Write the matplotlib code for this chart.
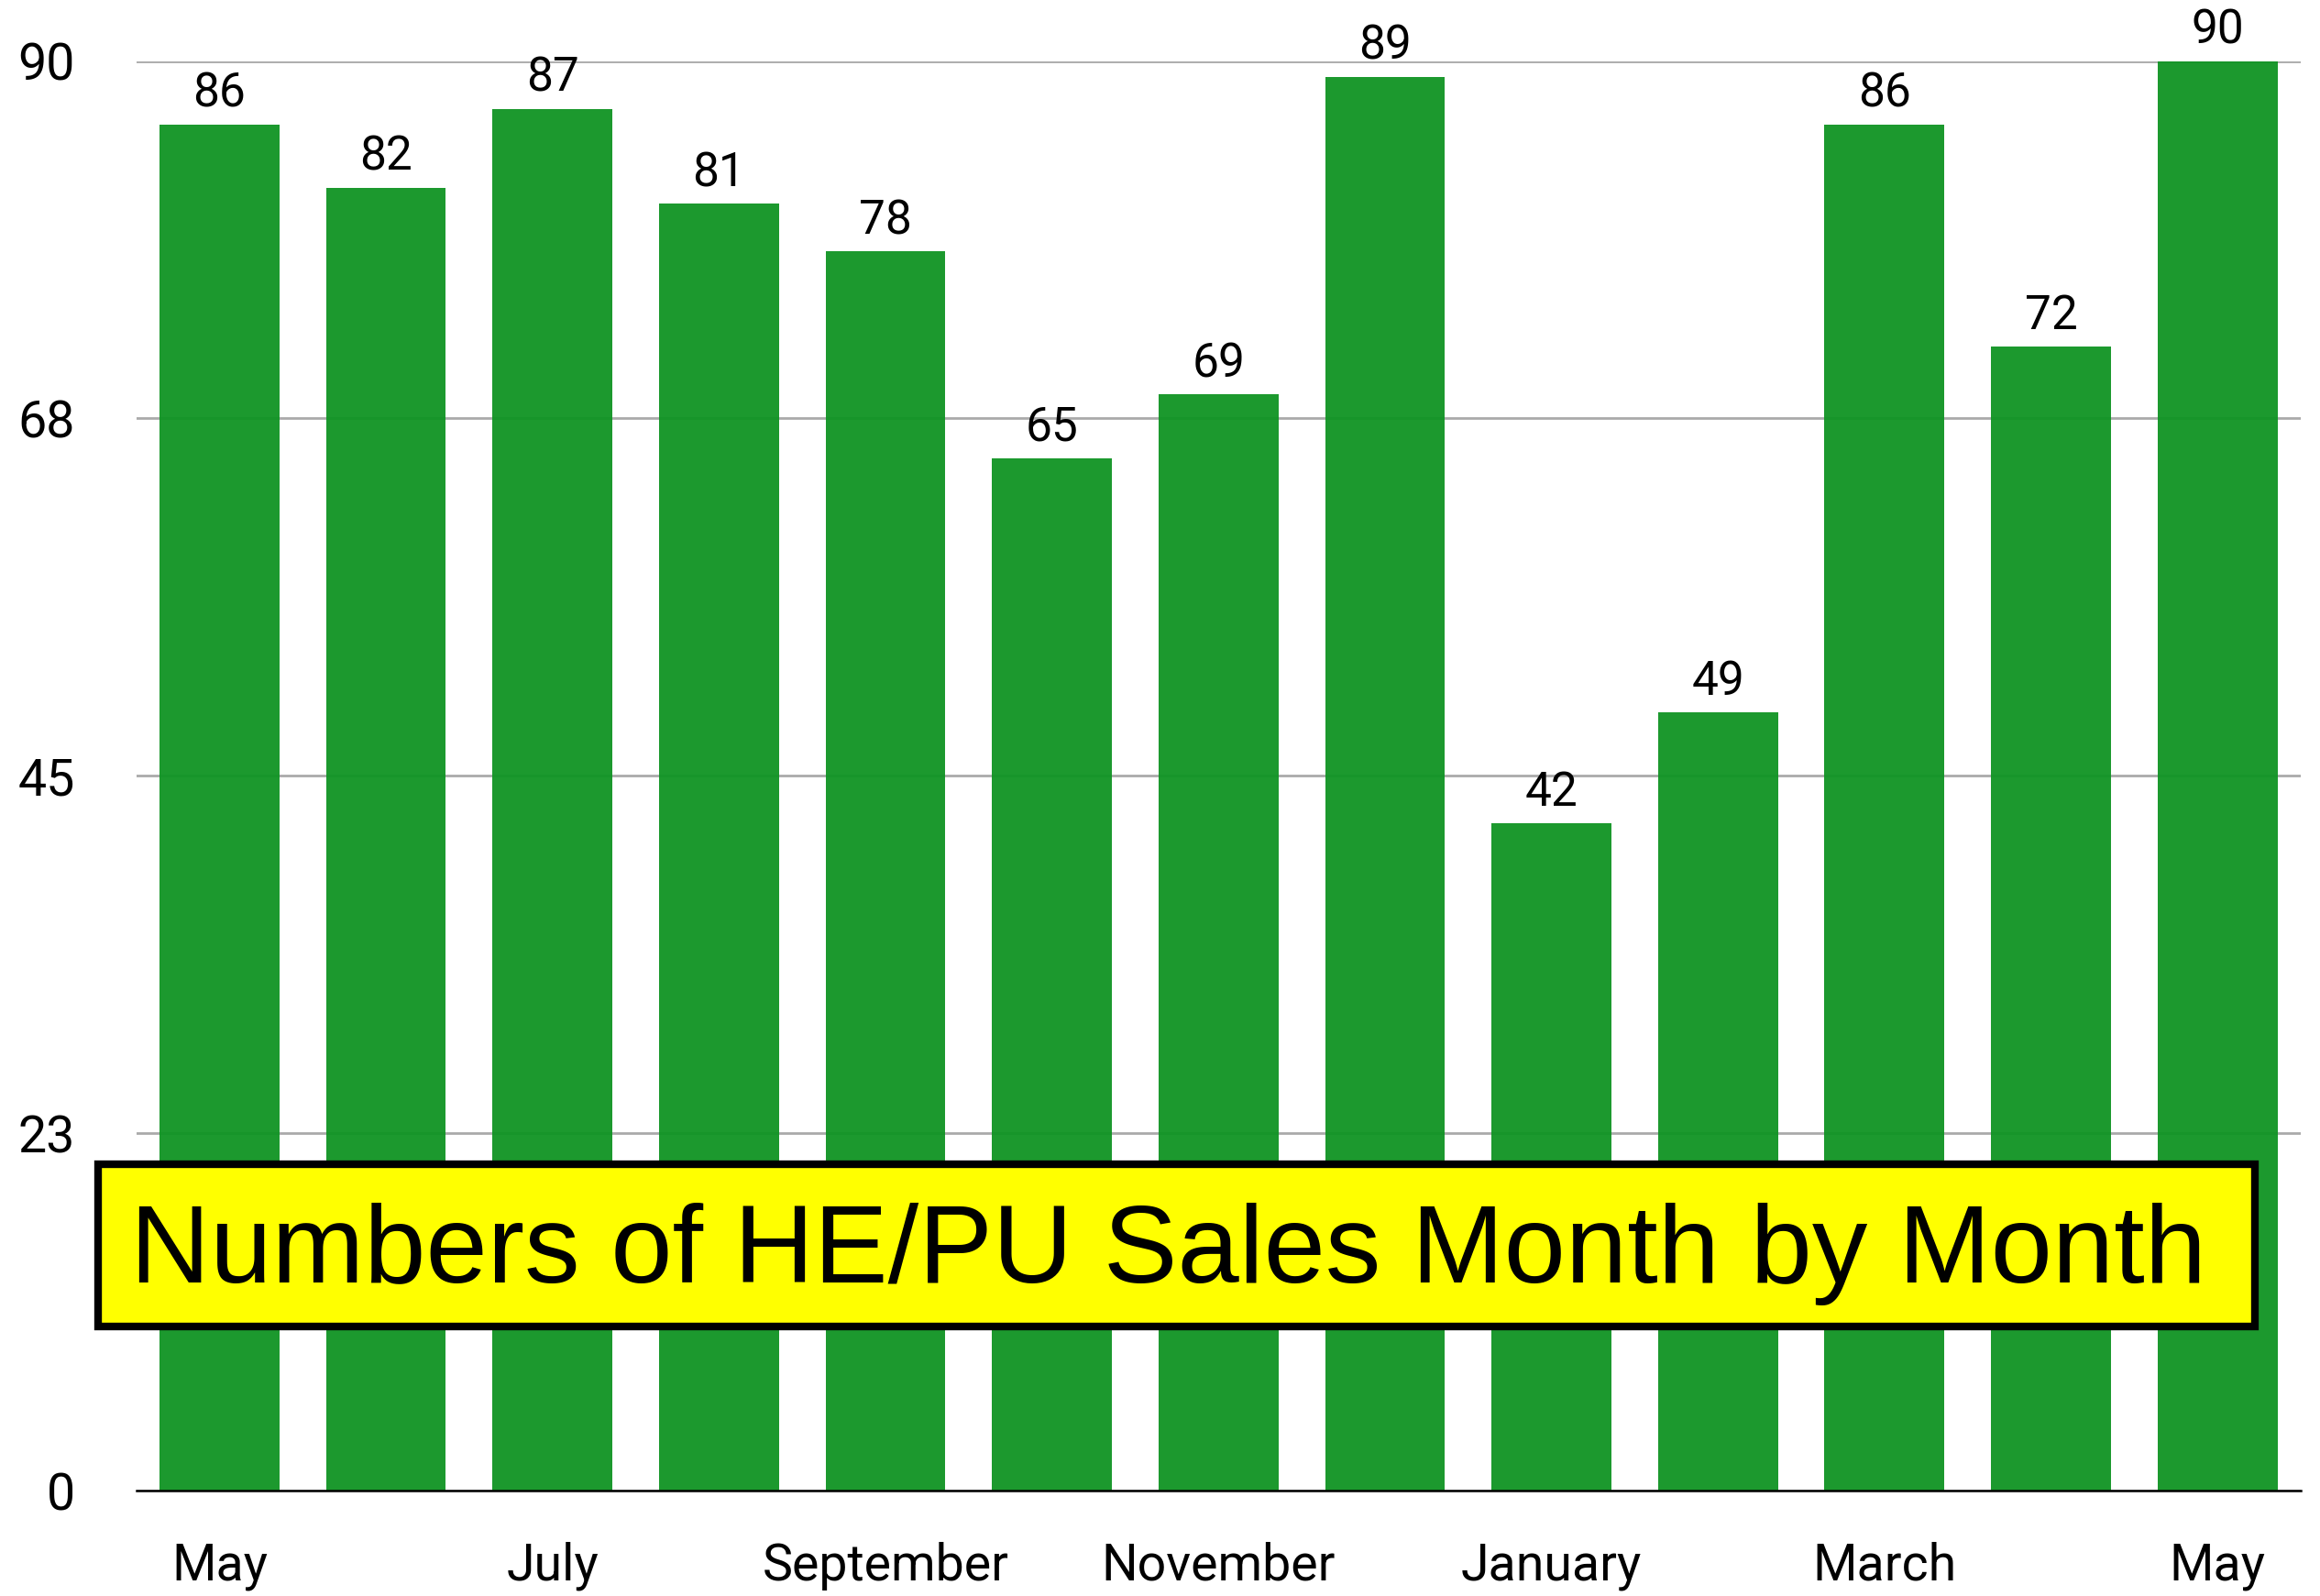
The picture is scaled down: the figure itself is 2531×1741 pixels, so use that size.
import matplotlib
matplotlib.use("Agg")
import matplotlib.pyplot as plt
from matplotlib.patches import Rectangle

months = ["May", "", "July", "", "September", "", "November", "",
          "January", "", "March", "", "May"]
sales = [86, 82, 87, 81, 78, 65, 69, 89, 42, 49, 86, 72, 90]
yticks = [0, 22.5, 45, 67.5, 90]
ytick_labels = ["0", "23", "45", "68", "90"]
title = "Numbers of HE/PU Sales Month by Month"

fig = plt.figure(figsize=(25.31, 17.41), dpi=100)
ax = fig.add_axes([0.0587, 0.0658, 0.933, 0.896])

x = list(range(len(sales)))
ax.bar(x, sales, width=0.72, color="#0f9423", alpha=0.95, zorder=2)
for xi, v in zip(x, sales):
    ax.annotate(str(v), (xi, v), xytext=(0, 6), textcoords="offset points",
                ha="center", va="bottom", fontsize=37, family="Roboto")

ax.set_xlim(-0.5, len(sales) - 0.5)
ax.set_ylim(0, 90)
ax.set_yticks(yticks)
ax.set_yticklabels(ytick_labels, family="Roboto", fontsize=40)
ax.set_xticks(x)
ax.set_xticklabels(months, family="Roboto", fontsize=40)
ax.tick_params(axis="y", length=0, pad=48)
ax.tick_params(axis="x", length=0, pad=40)
ax.yaxis.grid(True, color="#aaaaaa", linewidth=2, zorder=0)
ax.set_axisbelow(True)
for s in ["top", "right", "left"]:
    ax.spines[s].set_visible(False)
ax.spines["bottom"].set_linewidth(1.8)
ax.spines["bottom"].set_zorder(3)

# yellow title box over the bars
box = Rectangle((0.0421, 0.1687), 0.9298, 0.1019, transform=fig.transFigure,
                facecolor="#ffff00", edgecolor="black", linewidth=6, zorder=5)
fig.patches.append(box)
fig.text(0.5035, 0.2145, title, ha="center", va="center", fontsize=87,
         family="Liberation Sans", zorder=6)

fig.savefig("out.png", dpi=100)
